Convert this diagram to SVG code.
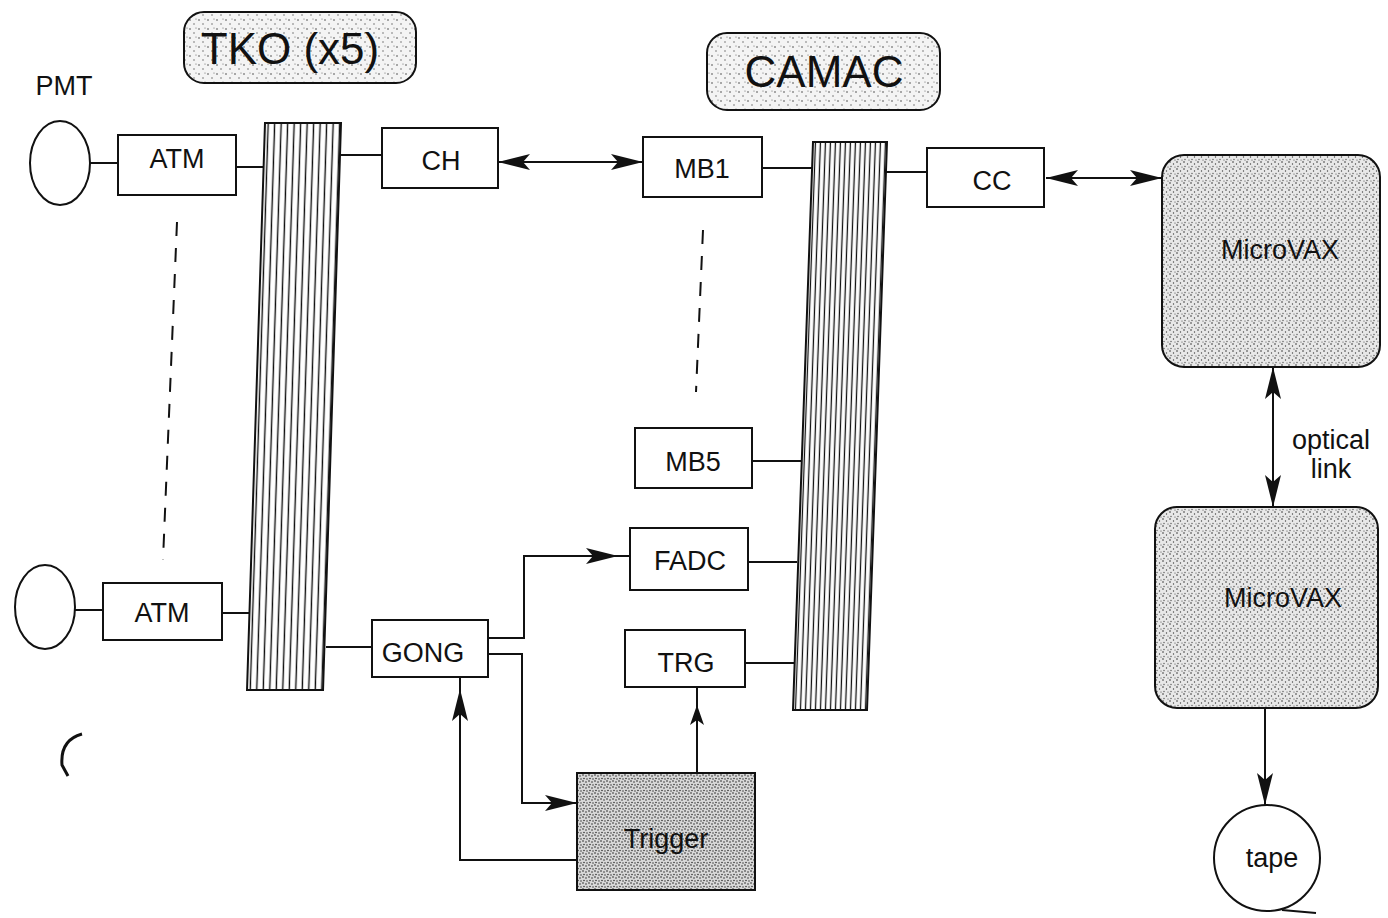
<svg xmlns="http://www.w3.org/2000/svg" width="1388" height="918" viewBox="0 0 1388 918">
<defs>
<style>
.box{fill:#fff;stroke:#111;stroke-width:2}
.ln{fill:none;stroke:#111;stroke-width:2}
.dash{fill:none;stroke:#111;stroke-width:2;stroke-dasharray:14 12}
.t{font-family:"Liberation Sans",Arial,sans-serif;font-size:27px;fill:#111;text-anchor:middle}
.big{font-family:"Liberation Sans",Arial,sans-serif;font-size:44px;fill:#111;text-anchor:middle}
</style>
<pattern id="stripesA" width="6.5" height="10" patternUnits="userSpaceOnUse" x="265">
<rect width="6.5" height="10" fill="#fff"/>
<rect x="2.5" width="1.4" height="10" fill="#111"/>
</pattern>
<pattern id="stripesB" width="5" height="10" patternUnits="userSpaceOnUse" x="813">
<rect width="5" height="10" fill="#fff"/>
<rect x="1.8" width="1.3" height="10" fill="#111"/>
</pattern>
<pattern id="stipLight" width="9" height="9" patternUnits="userSpaceOnUse">
<rect width="9" height="9" fill="#f4f4f4"/>
<circle cx="1" cy="2" r="0.8" fill="#444"/>
<circle cx="5" cy="6" r="0.7" fill="#555"/>
<circle cx="7" cy="1" r="0.6" fill="#666"/>
</pattern>
<pattern id="stipMed" width="7" height="7" patternUnits="userSpaceOnUse">
<rect width="7" height="7" fill="#e8e8e8"/>
<circle cx="1" cy="1" r="0.8" fill="#333"/>
<circle cx="4.5" cy="3" r="0.7" fill="#444"/>
<circle cx="2" cy="5.5" r="0.7" fill="#555"/>
<circle cx="6" cy="6" r="0.6" fill="#444"/>
</pattern>
<pattern id="stipDense" width="6" height="6" patternUnits="userSpaceOnUse">
<rect width="6" height="6" fill="#d8d8d8"/>
<circle cx="1" cy="1" r="0.8" fill="#222"/>
<circle cx="4" cy="2" r="0.8" fill="#333"/>
<circle cx="2" cy="4.5" r="0.8" fill="#333"/>
<circle cx="5" cy="5" r="0.7" fill="#222"/>
</pattern>
<marker id="ah" markerUnits="userSpaceOnUse" markerWidth="32" markerHeight="16" viewBox="0 0 32 16" refX="32" refY="8" orient="auto-start-reverse">
<path d="M0,0 L32,8 L0,16 L7,8 z" fill="#111"/>
</marker>
<marker id="ahOff" markerUnits="userSpaceOnUse" markerWidth="44" markerHeight="16" viewBox="0 0 44 16" refX="44" refY="8" orient="auto">
<path d="M0,0 L32,8 L0,16 L7,8 z" fill="#111"/>
</marker>
<marker id="ahSmall" markerUnits="userSpaceOnUse" markerWidth="38" markerHeight="14" viewBox="0 0 38 14" refX="38" refY="7" orient="auto">
<path d="M0,0 L20,7 L0,14 L5,7 z" fill="#111"/>
</marker>
</defs>
<rect width="1388" height="918" fill="#fff"/>

<g id="connectors">
<path class="ln" d="M90,163 H118"/>
<path class="ln" d="M236,167 H264"/>
<path class="ln" d="M340,155 H382"/>
<path class="ln" d="M498,162 H643" marker-start="url(#ah)" marker-end="url(#ah)"/>
<path class="ln" d="M762,168 H812"/>
<path class="ln" d="M886,172 H927"/>
<path class="ln" d="M1046,178 H1162" marker-start="url(#ah)" marker-end="url(#ah)"/>
<path class="ln" d="M752,461 H801"/>
<path class="ln" d="M748,562 H797"/>
<path class="ln" d="M745,663 H794"/>
<path class="ln" d="M75,610 H103"/>
<path class="ln" d="M222,613 H249"/>
<path class="ln" d="M326,647 H372"/>
<path class="ln" d="M488,638 H524 V556 H630" marker-end="url(#ahOff)"/>
<path class="ln" d="M488,654 H522 V803 H577" marker-end="url(#ah)"/>
<path class="ln" d="M577,860 H460 V677" marker-end="url(#ahOff)"/>
<path class="ln" d="M697,773 V687" marker-end="url(#ahSmall)"/>
<path class="ln" d="M1273,367 V507" marker-start="url(#ah)" marker-end="url(#ah)"/>
<path class="ln" d="M1265,708 V805" marker-end="url(#ah)"/>
<path class="dash" d="M177,222 L163,560"/>
<path class="dash" d="M703,230 L696,392"/>
</g>

<g id="label-tko">
<rect x="184" y="12" width="232" height="71" rx="20" fill="url(#stipLight)" stroke="#111" stroke-width="2"/>
<text class="big" x="290" y="64">TKO (x5)</text>
</g>
<g id="label-camac">
<rect x="707" y="33" width="233" height="77" rx="20" fill="url(#stipLight)" stroke="#111" stroke-width="2"/>
<text class="big" x="824" y="87" font-size="42">CAMAC</text>
</g>

<g id="pmt-label"><text class="t" x="64" y="95">PMT</text></g>
<g id="pmt1"><ellipse cx="60" cy="163" rx="30" ry="42" class="box"/></g>
<g id="atm1"><rect class="box" x="118" y="135" width="118" height="60"/><text class="t" x="177" y="168">ATM</text></g>
<g id="pmt2"><ellipse cx="45" cy="607" rx="30" ry="42" class="box"/></g>
<g id="atm2"><rect class="box" x="103" y="583" width="119" height="57"/><text class="t" x="162" y="622">ATM</text></g>

<g id="tko-backplane" transform="matrix(1 0 -0.0317 1 3.9 0)">
<rect x="265" y="123" width="76" height="567" fill="url(#stripesA)" stroke="#111" stroke-width="2"/>
</g>
<g id="camac-backplane" transform="matrix(1 0 -0.0352 1 5 0)">
<rect x="813" y="142" width="74" height="568" fill="url(#stripesB)" stroke="#111" stroke-width="2"/>
</g>

<g id="ch"><rect class="box" x="382" y="128" width="116" height="60"/><text class="t" x="441" y="170">CH</text></g>
<g id="gong"><rect class="box" x="372" y="620" width="116" height="57"/><text class="t" x="423" y="662">GONG</text></g>
<g id="mb1"><rect class="box" x="643" y="137" width="119" height="60"/><text class="t" x="702" y="178">MB1</text></g>
<g id="mb5"><rect class="box" x="635" y="428" width="117" height="60"/><text class="t" x="693" y="471">MB5</text></g>
<g id="fadc"><rect class="box" x="630" y="528" width="118" height="62"/><text class="t" x="690" y="570">FADC</text></g>
<g id="trg"><rect class="box" x="625" y="630" width="120" height="57"/><text class="t" x="686" y="672">TRG</text></g>
<g id="trigger"><rect x="577" y="773" width="178" height="117" fill="url(#stipDense)" stroke="#111" stroke-width="2"/><text class="t" x="666" y="848">Trigger</text></g>
<g id="cc"><rect class="box" x="927" y="148" width="117" height="59"/><text class="t" x="992" y="190">CC</text></g>

<g id="microvax1"><rect x="1162" y="155" width="218" height="212" rx="22" fill="url(#stipMed)" stroke="#111" stroke-width="2"/><text class="t" x="1280" y="259" font-size="28">MicroVAX</text></g>
<g id="optical-label"><text class="t" x="1331" y="449" font-size="25">optical</text><text class="t" x="1331" y="478" font-size="25">link</text></g>
<g id="microvax2"><rect x="1155" y="507" width="223" height="201" rx="22" fill="url(#stipMed)" stroke="#111" stroke-width="2"/><text class="t" x="1283" y="607" font-size="28">MicroVAX</text></g>
<g id="tape"><circle cx="1267" cy="858" r="53" class="box"/><path class="ln" d="M1282,910 L1316,913"/><text class="t" x="1272" y="867">tape</text></g>

<path d="M82,734 Q60,740 62,765 L68,776" fill="none" stroke="#111" stroke-width="3"/>
</svg>
